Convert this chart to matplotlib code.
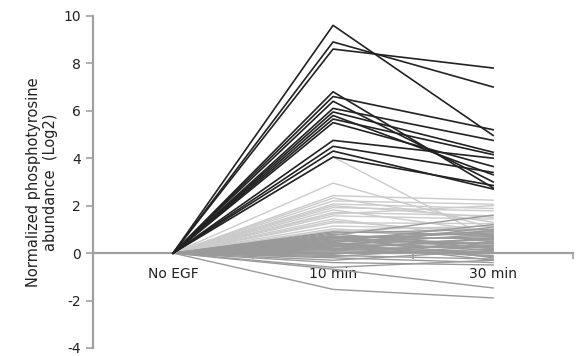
import matplotlib.pyplot as plt

plt.rcParams['axes.unicode_minus'] = False

# time points
conditions = ['No EGF', '10 min', '30 min']

# strongly induced sites (black): values at 10 min and 30 min
black_10 = [9.6, 8.9, 8.6, 6.8, 6.6, 6.4, 6.1, 5.95, 5.8, 5.65, 5.5, 4.75, 4.5, 4.3, 4.05]
black_30 = [4.96, 7.0, 7.8, 2.75, 5.2, 3.0, 4.75, 4.25, 3.3, 4.15, 3.65, 4.0, 3.4, 2.7, 2.85]

# moderately induced sites (light grey)
light_10 = [4.05, 2.95, 2.42, 2.32, 2.2, 2.07, 1.92, 1.82, 1.71, 1.57, 1.44, 1.28, 1.14, 1.02, 2.0, 1.65, 1.35, 0.95]
light_30 = [0.55, 1.05, 2.23, 1.3, 2.06, 1.88, 1.78, 0.9, 1.57, 1.43, 0.6, 1.24, 1.0, 0.7, 1.5, 2.0, 0.8, 1.15]

# unchanged sites (grey)
grey_10 = [0.85, 0.8, 0.75, 0.7, 0.68, 0.65, 0.6, 0.55, 0.5, 0.5, 0.45, 0.4, 0.38, 0.35, 0.3,
           0.3, 0.25, 0.2, 0.18, 0.15, 0.1, 0.05, 0.0, -0.05, -0.1, -0.15, -0.2, -0.3, -0.4,
           -0.6, -0.68, -1.53, 0.6, 0.3, 0.7, 0.45, 0.2, 0.9]
grey_30 = [1.0, 0.3, 1.6, 0.6, -0.2, 0.9, 0.4, 0.1, 1.2, 0.7, -0.3, 0.55, 0.2, 0.8, 0.0,
           0.45, 1.1, 0.25, -0.1, 0.65, 0.35, 0.05, 0.15, 0.5, -0.25, 0.3, -0.4, 0.1, -0.5,
           -0.3, -1.47, -1.89, 0.85, -0.15, 0.2, 0.95, 0.6, 0.75]

fig = plt.figure(figsize=(5.76, 3.56), dpi=100)
ax = fig.add_axes([0.1615, 0.0225, 0.8335, 0.933])

x = [0, 1, 2]
for a, b in zip(light_10, light_30):
    ax.plot(x, [0, a, b], color='#cbcbcb', lw=1.0, zorder=2)
for a, b in zip(grey_10, grey_30):
    ax.plot(x, [0, a, b], color='#9a9a9a', lw=1.0, zorder=3)
for a, b in zip(black_10, black_30):
    ax.plot(x, [0, a, b], color='#222222', lw=1.2, zorder=4)

ax.set_xlim(-0.5, 2.5)
ax.set_ylim(-4, 10)
ax.set_yticks(range(-4, 11, 2))

ax.spines['top'].set_visible(False)
ax.spines['right'].set_visible(False)
ax.spines['bottom'].set_position(('data', 0))
for s in ['left', 'bottom']:
    ax.spines[s].set_color('#a0a0a0')
    ax.spines[s].set_linewidth(1.6)
    ax.spines[s].set_zorder(1)

ax.set_xticks([0.5, 1.5, 2.5])
ax.set_xticks([0, 1, 2], minor=True)
ax.set_xticklabels([])
ax.set_xticklabels(conditions, minor=True)
ax.tick_params(axis='x', which='major', length=4, width=1.2, color='#a0a0a0')
ax.tick_params(axis='x', which='minor', length=0, pad=10, labelsize=10, labelcolor='#222222')
ax.tick_params(axis='y', length=5, width=1.2, color='#a0a0a0', labelsize=10, labelcolor='#222222')

ax.set_ylabel('Normalized phosphotyrosine\nabundance  (Log2)', fontsize=10.5, color='#222222')

fig.savefig('out.png', dpi=100)
